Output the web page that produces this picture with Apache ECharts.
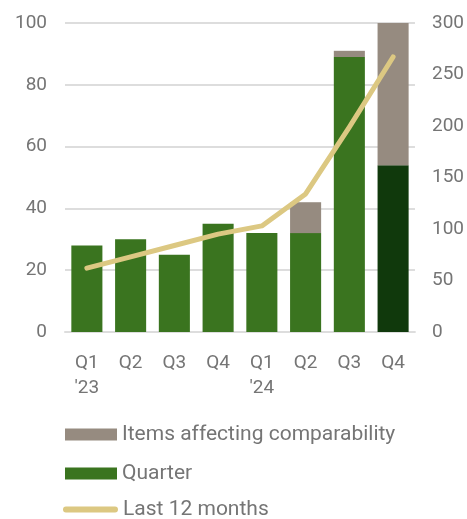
<!DOCTYPE html>
<html>
<head>
<meta charset="utf-8">
<script src="https://cdn.jsdelivr.net/npm/echarts@6/dist/echarts.min.js"></script>
<style>
  html, body { margin: 0; padding: 0; background: #ffffff; }
  #chart { width: 467px; height: 519px; }
</style>
</head>
<body>
<div id="chart"></div>
<script>
// Quarterly figures (left axis) with rolling twelve-month total (right axis)
const categories = ["Q1\n'23", "Q2", "Q3", "Q4", "Q1\n'24", "Q2", "Q3", "Q4"];
const quarterValues = [28, 30, 25, 35, 32, 32, 89, 54];
const itemsValues = [0, 0, 0, 0, 0, 10, 2, 46];
const last12Values = [62, 73, 84, 95, 103, 134, 199, 267];
const leftTicks = { min: 0, max: 100, interval: 20 };
const rightTicks = { min: 0, max: 300, interval: 50 };

const GREEN = '#3a741f';
const DARK_GREEN = '#10390c';
const GREY = '#968b80';
const GOLD = '#dcc882';
const TEXT = '#757575';
const FONT = 'Roboto, "Noto Sans", sans-serif';

const lastIndex = quarterValues.length - 1;
const quarterData = quarterValues.map((v, i) =>
  i === lastIndex ? { value: v, itemStyle: { color: DARK_GREEN } } : v
);

const legendText = { color: TEXT, fontSize: 21, fontFamily: FONT };
const capsule = 'path://M3,0 L53,0 A3,3 0 0 1 53,6 L3,6 A3,3 0 0 1 3,0 Z';

const chart = echarts.init(document.getElementById('chart'), null, { renderer: 'canvas' });
chart.setOption({
  animation: false,
  textStyle: { fontFamily: FONT },
  grid: { left: 65, right: 51, top: 23, bottom: 187 },
  legend: [
    { left: 65, top: 424, padding: 0, itemWidth: 52, itemHeight: 12, icon: 'rect',
      data: ['Items affecting comparability'], textStyle: legendText, selectedMode: false },
    { left: 65, top: 463, padding: 0, itemWidth: 52, itemHeight: 12, icon: 'rect',
      data: ['Quarter'], textStyle: legendText, selectedMode: false },
    { left: 63, top: 499, padding: 0, itemWidth: 55, itemHeight: 6, icon: capsule,
      data: ['Last 12 months'], textStyle: legendText, selectedMode: false }
  ],
  xAxis: {
    type: 'category',
    data: categories,
    axisLine: { show: true, lineStyle: { color: '#dddddd', width: 2 } },
    axisTick: { show: false },
    axisLabel: { color: TEXT, fontSize: 19, lineHeight: 25, margin: 19, fontFamily: FONT }
  },
  yAxis: [
    {
      type: 'value', min: leftTicks.min, max: leftTicks.max, interval: leftTicks.interval,
      axisLine: { show: false }, axisTick: { show: false },
      axisLabel: { color: TEXT, fontSize: 19, margin: 18, fontFamily: FONT },
      splitLine: { lineStyle: { color: '#dddddd', width: 2 } }
    },
    {
      type: 'value', min: rightTicks.min, max: rightTicks.max, interval: rightTicks.interval,
      axisLine: { show: false }, axisTick: { show: false },
      axisLabel: { color: TEXT, fontSize: 19, margin: 17, fontFamily: FONT },
      splitLine: { show: false }
    }
  ],
  series: [
    {
      name: 'Quarter', type: 'bar', stack: 'total', yAxisIndex: 0,
      data: quarterData, barCategoryGap: '29%',
      itemStyle: { color: GREEN }
    },
    {
      name: 'Items affecting comparability', type: 'bar', stack: 'total', yAxisIndex: 0,
      data: itemsValues, barCategoryGap: '29%',
      itemStyle: { color: GREY }
    },
    {
      name: 'Last 12 months', type: 'line', yAxisIndex: 1,
      data: last12Values, showSymbol: false, symbol: 'none',
      lineStyle: { color: GOLD, width: 5, cap: 'round', join: 'round' },
      itemStyle: { color: GOLD },
      z: 5
    }
  ]
});
</script>
</body>
</html>
